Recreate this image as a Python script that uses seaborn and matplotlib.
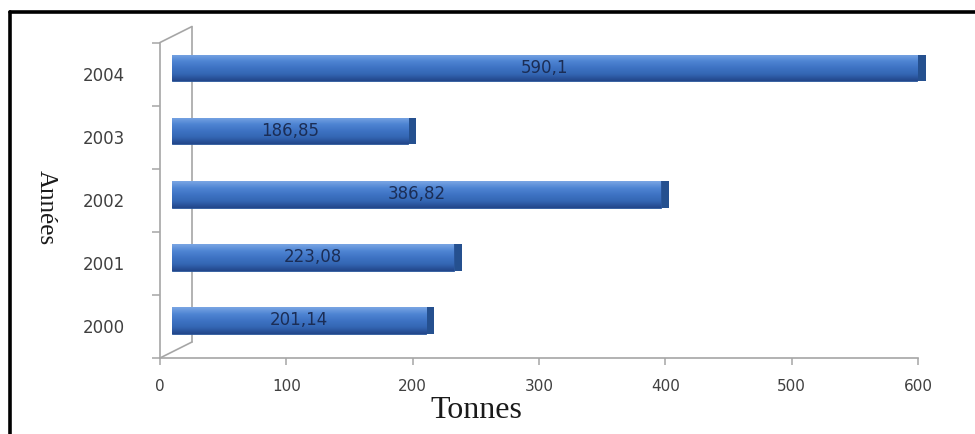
import numpy as np
import pandas as pd
import matplotlib
matplotlib.use("Agg")
import matplotlib.pyplot as plt
import matplotlib.transforms as mtransforms
import matplotlib.patheffects as pe
from matplotlib.lines import Line2D
from matplotlib.colors import LinearSegmentedColormap
import seaborn as sns

# ---- data ----
years = ["2004", "2003", "2002", "2001", "2000"]
tonnes = [590.1, 186.85, 386.82, 223.08, 201.14]
labels = ["590,1", "186,85", "386,82", "223,08", "201,14"]
xticks = [0, 100, 200, 300, 400, 500, 600]

df = pd.DataFrame({"annee": years, "tonnes": tonnes})

sns.set_theme(style="white")
plt.rcParams["font.family"] = ["DejaVu Sans"]

fig = plt.figure(figsize=(9.75, 4.34), dpi=100)
ax = fig.add_axes([160 / 975, 1 - 358 / 434, 758 / 975, 315.5 / 434])

sns.barplot(data=df, y="annee", x="tonnes", order=years, orient="h",
            color="#3c70c0", width=0.42, saturation=1, ax=ax, zorder=3)

ax.set_xlim(0, 600)
ax.set_ylim(4.5, -0.5)

axis_grey = "#a6a6a6"
# pixel offset of the 3D bar front
bar_off = mtransforms.ScaledTranslation(12 / 100, 6 / 100, fig.dpi_scale_trans)
bar_trans = ax.transData + bar_off

# vertical gradient for bars
grad = np.linspace(0, 1, 64).reshape(-1, 1)
cmap = LinearSegmentedColormap.from_list(
    "bar", ["#7aa6e4", "#4f85d3", "#3e73c4", "#3466b3", "#22468a"])

for patch, lab in zip(ax.patches, labels):
    patch.set_transform(bar_trans)
    patch.set_clip_on(False)
    patch.set_edgecolor("#2a5598")
    patch.set_linewidth(0.6)
    patch.set_path_effects([pe.SimplePatchShadow(offset=(6, 0), shadow_rgbFace="#25508f", alpha=1.0),
                            pe.Normal()])
    x0, y0 = patch.get_x(), patch.get_y()
    w, h = patch.get_width(), patch.get_height()
    im = ax.imshow(grad, extent=[x0, x0 + w, y0 + h, y0], cmap=cmap, aspect="auto",
                   transform=bar_trans, zorder=4, interpolation="bicubic")
    im.set_clip_box(fig.bbox)
    im.set_clip_path(patch)
    ax.text(x0 + w / 2, y0 + h / 2, lab, transform=bar_trans, ha="center", va="center",
            fontsize=12, color="#1b2d55", zorder=5)

ax.set_xlim(0, 600)
ax.set_ylim(4.5, -0.5)

# axes styling
for s in ["top", "right"]:
    ax.spines[s].set_visible(False)
for s in ["left", "bottom"]:
    ax.spines[s].set_color(axis_grey)
    ax.spines[s].set_linewidth(1.2)

ax.set_xticks(xticks)
ax.set_xticklabels([str(t) for t in xticks])
ax.tick_params(axis="x", direction="out", length=5, width=1.1, color=axis_grey,
               labelsize=11, labelcolor="#404040", pad=10, bottom=True)

# category boundaries as major ticks, labels on minor ticks
ax.set_yticks(np.arange(-0.5, 5.0, 1.0))
ax.set_yticklabels([""] * 6)
ax.set_yticks(np.arange(0, 5), minor=True)
ax.set_yticklabels(years, minor=True)
ax.tick_params(axis="y", which="major", direction="out", length=6, width=1.1,
               color=axis_grey, left=True)
ax.tick_params(axis="y", which="minor", length=0, labelsize=12, labelcolor="#404040",
               pad=25, left=True)
ax.set_ylabel("")
ax.set_xlabel("")

# side wall (3D look)
wall_off = mtransforms.ScaledTranslation(32 / 100, 16 / 100, fig.dpi_scale_trans)
wall_trans = ax.transAxes + wall_off
ax.add_line(Line2D([0, 0], [0, 1], transform=wall_trans, color=axis_grey, lw=1.2,
                   zorder=2, clip_on=False))
for yy in (0, 1):
    ax.annotate("", xy=(0, yy), xycoords=wall_trans, xytext=(0, yy),
                textcoords=ax.transAxes,
                arrowprops=dict(arrowstyle="-", color=axis_grey, lw=1.2,
                                shrinkA=0, shrinkB=0), zorder=2)

# axis titles
fig.text(476 / 975, 1 - 411 / 434, "Tonnes", ha="center", va="center",
         family="Liberation Serif", fontsize=23, color="#1a1a1a")
fig.text(46 / 975, 1 - 208 / 434, "Années", ha="center", va="center", rotation=270,
         family="Liberation Serif", fontsize=18, color="#1a1a1a")

# outer black frame (left and top only visible)
fig.add_artist(Line2D([10 / 975, 10 / 975], [0, 1 - 11.5 / 434], transform=fig.transFigure,
                      color="black", lw=2.6))
fig.add_artist(Line2D([10 / 975, 1], [1 - 11.5 / 434, 1 - 11.5 / 434], transform=fig.transFigure,
                      color="black", lw=2.6))

fig.savefig("out.png", dpi=100, facecolor="white")
